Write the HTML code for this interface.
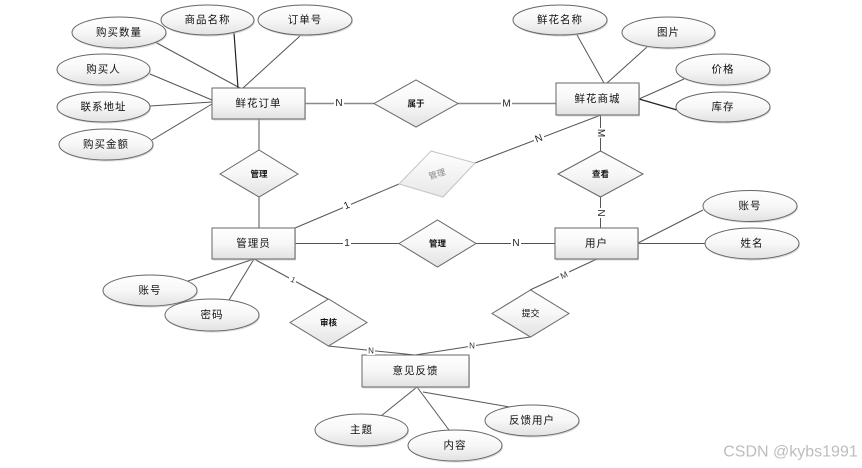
<!DOCTYPE html>
<html><head><meta charset="utf-8"><style>
html,body{margin:0;padding:0;background:#fff;width:862px;height:468px;overflow:hidden}
svg{display:block}
text{font-family:"Liberation Sans","Noto Sans CJK SC",sans-serif;fill:#111;text-anchor:middle;dominant-baseline:central}
.a{font-size:10.5px;letter-spacing:1px}
.d{font-size:8.5px;font-weight:700}
.l{font-size:10px;fill:#222}
.s{fill:url(#g);stroke:#666;stroke-width:1}
.h{fill:#bbb;opacity:.55;stroke:none}
line{stroke:#555;stroke-width:1}
.t{stroke:#8a8a8a;stroke-width:1.6}
.k{stroke:#222;stroke-width:1.2}
.bg{fill:#fff;stroke:none}
</style></head><body>
<svg width="862" height="468" viewBox="0 0 862 468" xmlns="http://www.w3.org/2000/svg">
<defs>
<linearGradient id="g" x1="0" y1="0" x2="0" y2="1"><stop offset="0" stop-color="#fff"/><stop offset=".5" stop-color="#f7f7f7"/><stop offset="1" stop-color="#e2e2e2"/></linearGradient>
<linearGradient id="g2" x1="0" y1="0" x2="0" y2="1"><stop offset="0" stop-color="#fff"/><stop offset="1" stop-color="#e8e8e8"/></linearGradient>
</defs>

<!-- connectors -->
<line x1="155" y1="42" x2="240" y2="88"/>
<line x1="234" y1="33" x2="238" y2="88" class="k"/>
<line x1="300" y1="36" x2="243" y2="88"/>
<line x1="150" y1="74" x2="212" y2="100"/>
<line x1="150" y1="106" x2="212" y2="102"/>
<line x1="152" y1="140" x2="212" y2="104"/>
<line x1="305" y1="103.5" x2="374" y2="103.5" class="t"/>
<line x1="458" y1="103.5" x2="556" y2="103.5" class="t"/>
<line x1="259" y1="119" x2="259" y2="150"/>
<line x1="259" y1="197" x2="259" y2="228"/>
<line x1="577" y1="35" x2="604" y2="83"/>
<line x1="647" y1="47" x2="607" y2="83"/>
<line x1="684" y1="79" x2="639" y2="99"/>
<line x1="639" y1="99" x2="677" y2="110" class="k"/>
<line x1="475" y1="163" x2="601" y2="115"/>
<line x1="399" y1="184" x2="295" y2="228"/>
<line x1="600.5" y1="115" x2="600.5" y2="151"/>
<line x1="600.5" y1="197" x2="600.5" y2="228"/>
<line x1="295" y1="243.5" x2="399" y2="243.5"/>
<line x1="476" y1="243.5" x2="555" y2="243.5"/>
<line x1="638" y1="243" x2="703" y2="210"/>
<line x1="638" y1="243.5" x2="705" y2="243.5"/>
<line x1="597" y1="259" x2="530" y2="290"/>
<line x1="530" y1="337" x2="415" y2="355"/>
<line x1="328" y1="346" x2="415" y2="355"/>
<line x1="254" y1="259" x2="188" y2="281"/>
<line x1="254" y1="259" x2="229" y2="300"/>
<line x1="254" y1="259" x2="328" y2="299"/>
<line x1="417" y1="387" x2="381" y2="416"/>
<line x1="417" y1="387" x2="449" y2="430"/>
<line x1="423" y1="392" x2="510" y2="407"/>

<!-- ellipses -->
<ellipse class="h" cx="120" cy="34" rx="47" ry="15.5"/><ellipse class="s" cx="119" cy="32.5" rx="47" ry="15.5"/><text class="a" x="119" y="32.5">购买数量</text>
<ellipse class="h" cx="208.500" cy="21.500" rx="46.500" ry="15"/><ellipse class="s" cx="207.500" cy="20" rx="46.500" ry="15"/><text class="a" x="207.500" y="20">商品名称</text>
<ellipse class="h" cx="306" cy="21.500" rx="47" ry="15"/><ellipse class="s" cx="305" cy="20" rx="47" ry="15"/><text class="a" x="305" y="20">订单号</text>
<ellipse class="h" cx="104.500" cy="71" rx="46.500" ry="15.500"/><ellipse class="s" cx="103.500" cy="69.500" rx="46.500" ry="15.500"/><text class="a" x="103.500" y="69.500">购买人</text>
<ellipse class="h" cx="104.500" cy="108.500" rx="46.500" ry="15"/><ellipse class="s" cx="103.500" cy="107" rx="46.500" ry="15"/><text class="a" x="103.500" y="107">联系地址</text>
<ellipse class="h" cx="107" cy="146" rx="47" ry="15.500"/><ellipse class="s" cx="106" cy="144.500" rx="47" ry="15.500"/><text class="a" x="106" y="144.500">购买金额</text>
<ellipse class="h" cx="561" cy="21.500" rx="47" ry="15"/><ellipse class="s" cx="560" cy="20" rx="47" ry="15"/><text class="a" x="560" y="20">鲜花名称</text>
<ellipse class="h" cx="669.500" cy="34" rx="46.500" ry="15.500"/><ellipse class="s" cx="668.500" cy="32.500" rx="46.500" ry="15.500"/><text class="a" x="668.500" y="32.500">图片</text>
<ellipse class="h" cx="724" cy="71" rx="47" ry="15.500"/><ellipse class="s" cx="723" cy="69.500" rx="47" ry="15.500"/><text class="a" x="723" y="69.500">价格</text>
<ellipse class="h" cx="724" cy="108.500" rx="47" ry="15"/><ellipse class="s" cx="723" cy="107" rx="47" ry="15"/><text class="a" x="723" y="107">库存</text>
<ellipse class="h" cx="751" cy="207.500" rx="47" ry="15.500"/><ellipse class="s" cx="750" cy="206" rx="47" ry="15.500"/><text class="a" x="750" y="206">账号</text>
<ellipse class="h" cx="753" cy="245" rx="47" ry="15.500"/><ellipse class="s" cx="752" cy="243.500" rx="47" ry="15.500"/><text class="a" x="752" y="243.500">姓名</text>
<ellipse class="h" cx="151" cy="292" rx="47" ry="15.500"/><ellipse class="s" cx="150" cy="290.500" rx="47" ry="15.500"/><text class="a" x="150" y="290.500">账号</text>
<ellipse class="h" cx="213" cy="316.500" rx="47" ry="16"/><ellipse class="s" cx="212" cy="315" rx="47" ry="16"/><text class="a" x="212" y="315">密码</text>
<ellipse class="h" cx="362.500" cy="431.500" rx="46.500" ry="16"/><ellipse class="s" cx="361.500" cy="430" rx="46.500" ry="16"/><text class="a" x="361.500" y="430">主题</text>
<ellipse class="h" cx="456" cy="447" rx="47" ry="15.500"/><ellipse class="s" cx="455" cy="445.500" rx="47" ry="15.500"/><text class="a" x="455" y="445.500">内容</text>
<ellipse class="h" cx="533" cy="422" rx="47" ry="15.500"/><ellipse class="s" cx="532" cy="420.500" rx="47" ry="15.500"/><text class="a" x="532" y="420.500">反馈用户</text>

<!-- rects -->
<rect class="h" x="213" y="89.500" width="93" height="31"/><rect class="s" x="212" y="88" width="93" height="31"/><text class="a" x="258.500" y="103.500">鲜花订单</text>
<rect class="h" x="557" y="84.500" width="83" height="32"/><rect class="s" x="556" y="83" width="83" height="32"/><text class="a" x="597.500" y="99">鲜花商城</text>
<rect class="h" x="213" y="229.500" width="83" height="31"/><rect class="s" x="212" y="228" width="83" height="31"/><text class="a" x="253.500" y="243.500">管理员</text>
<rect class="h" x="556" y="229.500" width="83" height="31"/><rect class="s" x="555" y="228" width="83" height="31"/><text class="a" x="596.500" y="243.500">用户</text>
<rect class="h" x="363" y="356.500" width="107" height="32"/><rect class="s" x="362" y="355" width="107" height="32"/><text class="a" x="415.500" y="371">意见反馈</text>

<!-- diamonds -->
<polygon class="s" points="374,103.500 416,80 458,103.500 416,127"/><text class="d" x="416" y="103.500">属于</text>
<polygon class="s" points="220,174 259,150 298,174 259,197"/><text class="d" x="259" y="174">管理</text>
<polygon class="s" points="558,174 600.500,151 643,174 600.500,197"/><text class="d" x="600.500" y="174">查看</text>
<polygon class="s" points="399,243.500 437.500,220 476,243.500 437.500,267"/><text class="d" x="437.500" y="243.500">管理</text>
<polygon class="s" points="290,322.500 328.500,299 367,322.500 328.500,346"/><text class="d" x="328.500" y="322.500">审核</text>
<polygon class="s" points="492,313.500 530.500,290 569,313.500 530.500,337"/><text class="d" x="530.500" y="313.500" style="font-weight:400;font-size:9px">提交</text>
<polygon points="431,151 475,163 443,197 399,184" fill="url(#g2)" stroke="#c4c4c4"/><text x="437" y="174" transform="rotate(-17 437 174)" style="font-size:8.500px;fill:#888">管理</text>

<!-- connector labels -->
<rect class="bg" x="334" y="98" width="10" height="11"/><text class="l" x="339" y="103.500">N</text>
<rect class="bg" x="501" y="98" width="11" height="11"/><text class="l" x="506.500" y="104">M</text>
<rect class="bg" x="534" y="134" width="10" height="10"/><text class="l" x="539" y="139" transform="rotate(-21 539 139)">N</text>
<rect class="bg" x="343" y="201" width="8" height="10"/><text class="l" x="347" y="206" transform="rotate(-23 347 206)">1</text>
<rect class="bg" x="595" y="128" width="11" height="10"/><text class="l" x="600.500" y="133" transform="rotate(90 600.500 133)">M</text>
<rect class="bg" x="595" y="208" width="11" height="10"/><text class="l" x="600.500" y="213" transform="rotate(90 600.500 213)">N</text>
<rect class="bg" x="343" y="238" width="8" height="11"/><text class="l" x="347" y="243.500">1</text>
<rect class="bg" x="511" y="238" width="10" height="11"/><text class="l" x="516" y="243.500">N</text>
<rect class="bg" x="289" y="275" width="7" height="9"/><text x="293" y="280" transform="rotate(28 293 280)" style="font-size:8px;fill:#333">1</text>
<rect class="bg" x="559" y="270" width="10" height="9"/><text x="564" y="275" transform="rotate(-25 564 275)" style="font-size:8.500px;fill:#333">M</text>
<rect class="bg" x="367" y="347" width="8" height="8"/><text x="371" y="351" style="font-size:8px;fill:#333">N</text>
<rect class="bg" x="468" y="342" width="8" height="8"/><text x="472" y="346" style="font-size:8px;fill:#333">N</text>

<text x="790.500" y="452" style="font-size:16px;fill:#bdbdbd">CSDN @kybs1991</text>
</svg>
</body></html>
